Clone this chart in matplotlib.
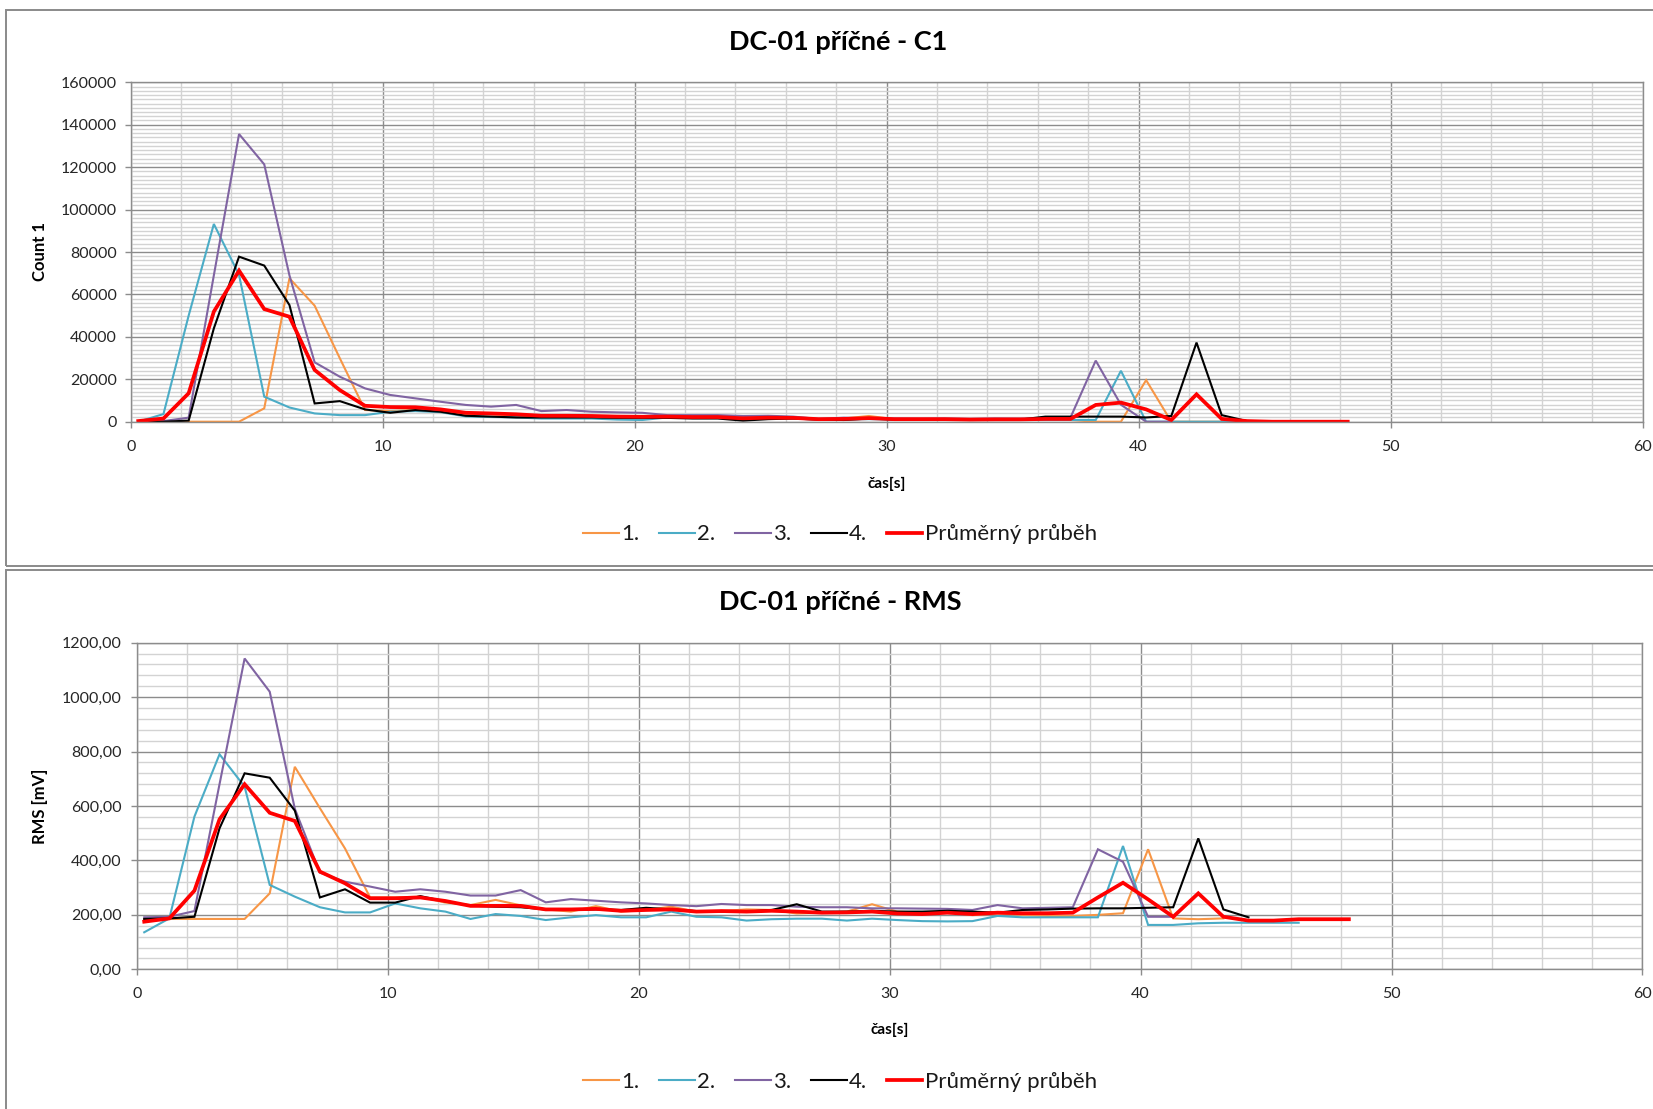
import matplotlib
matplotlib.use("Agg")
import matplotlib.pyplot as plt
from matplotlib.lines import Line2D
from matplotlib.patches import Rectangle
from matplotlib.ticker import FuncFormatter, MultipleLocator

plt.rcParams['font.family'] = ['Lato', 'DejaVu Sans']

# time axis [s]
TIME = [0.3, 1.3, 2.3, 3.3, 4.3, 5.3, 6.3, 7.3, 8.3, 9.3,
        10.3, 11.3, 12.3, 13.3, 14.3, 15.3, 16.3, 17.3, 18.3, 19.3,
        20.3, 21.3, 22.3, 23.3, 24.3, 25.3, 26.3, 27.3, 28.3, 29.3,
        30.3, 31.3, 32.3, 33.3, 34.3, 35.3, 36.3, 37.3, 38.3, 39.3,
        40.3, 41.3, 42.3, 43.3, 44.3, 45.3, 46.3, 47.3, 48.3]

SERIES_NAMES = ["1.", "2.", "3.", "4.", "Průměrný průběh"]

# ---- Count 1 ----
C1_RUN1 = [0, 0, 0, 0, 0, 6300, 67600, 54700, 29900, 5500,
           5000, 5500, 4500, 3500, 3500, 3000, 2500, 2500, 2500, 2000,
           2000, 2000, 2000, 2000, 1500, 1500, 1500, 1200, 1500, 2700,
           1200, 1200, 1000, 1000, 1000, 1000, 1000, 800, 0, 0,
           19600, 0, 0, 0]
C1_RUN2 = [0, 3600, 50000, 93200, 69200, 11800, 6700, 3900, 3100, 3100,
           4700, 5000, 4500, 2500, 2200, 2000, 1500, 1500, 1500, 1000,
           800, 2000, 2000, 2000, 1500, 2000, 1500, 1000, 1000, 1200,
           1000, 1000, 1000, 800, 800, 800, 800, 800, 800, 24000,
           0, 0, 0, 0, 0, 0, 0]
C1_RUN3 = [0, 300, 1900, 69000, 135600, 121300, 69000, 28000, 21200, 15700,
           12600, 11000, 9400, 7900, 7100, 7900, 5000, 5500, 4700, 4400,
           4200, 3100, 3100, 3100, 2700, 2800, 2400, 1300, 1900, 1600,
           1500, 1400, 1500, 1300, 1500, 1400, 1600, 2000, 28800, 8000,
           0, 0]
C1_RUN4 = [0, 0, 500, 44000, 77800, 73600, 55000, 8600, 9700, 5800,
           4200, 5500, 4700, 2800, 2400, 2000, 2000, 2000, 2000, 1800,
           1800, 1800, 1500, 1500, 500, 1200, 1500, 1000, 800, 1500,
           1000, 1000, 1200, 1000, 1000, 1000, 2400, 2400, 2400, 2400,
           2000, 2700, 37300, 3100, 300]
C1_MEAN = [300, 1500, 13400, 51900, 71200, 53100, 49500, 24400, 14900, 7500,
           6900, 6800, 5800, 4200, 3900, 3500, 2800, 2800, 2700, 2400,
           2300, 2400, 2200, 2200, 1600, 1900, 1800, 1200, 1300, 1700,
           1200, 1200, 1200, 1000, 1100, 1100, 1300, 1300, 7900, 9000,
           5800, 800, 12900, 1300, 300, 0, 0, 0, 0]

# ---- RMS [mV] ----
RMS_RUN1 = [185, 185, 185, 185, 185, 279, 744, 592, 444, 264,
            264, 267, 245, 236, 255, 235, 220, 212, 232, 212,
            218, 230, 212, 214, 220, 218, 205, 208, 212, 239,
            212, 208, 212, 199, 205, 200, 196, 196, 200, 206,
            441, 187, 184, 187]
RMS_RUN2 = [136, 187, 561, 790, 671, 310, 267, 228, 209, 209,
            242, 224, 212, 185, 203, 196, 181, 191, 199, 191,
            191, 212, 193, 191, 179, 184, 186, 186, 179, 186,
            181, 177, 176, 177, 196, 191, 191, 191, 191, 453,
            163, 163, 169, 171, 171, 171, 171]
RMS_RUN3 = [191, 193, 214, 680, 1142, 1020, 590, 355, 322, 304,
            285, 294, 285, 271, 271, 291, 246, 258, 252, 246,
            242, 236, 232, 240, 236, 236, 230, 228, 228, 224,
            224, 223, 222, 218, 236, 224, 226, 228, 441, 395,
            193, 193]
RMS_RUN4 = [185, 187, 193, 518, 720, 704, 583, 264, 294, 245,
            245, 269, 249, 234, 230, 228, 220, 218, 220, 218,
            226, 220, 214, 212, 212, 218, 239, 212, 212, 215,
            212, 212, 215, 212, 208, 218, 220, 223, 224, 224,
            226, 228, 481, 220, 191]
RMS_MEAN = [175, 187, 289, 551, 680, 575, 545, 359, 316, 261,
            261, 264, 251, 233, 233, 233, 220, 220, 222, 215,
            218, 220, 212, 214, 212, 215, 212, 208, 209, 212,
            205, 203, 208, 203, 208, 206, 206, 208, 264, 318,
            257, 193, 279, 193, 179, 179, 184, 184, 184]

COLORS = ["#F79646", "#4BACC6", "#8064A2", "#000000", "#FF0000"]
WIDTHS = [1.5, 1.5, 1.5, 1.5, 2.7]

W, H = 1653, 1109
fig = plt.figure(figsize=(W / 100, H / 100), dpi=100)
fig.patch.set_facecolor("white")

GRID_MAJOR = "#8C8C8C"
GRID_MINOR = "#D3D3D3"


def axes_px(left, top, right, bottom):
    return fig.add_axes([left / W, 1 - bottom / H, (right - left) / W, (bottom - top) / H])


def frame_px(left, top, right, bottom):
    fig.patches.append(Rectangle((left / W, 1 - bottom / H), (right - left) / W,
                                 (bottom - top) / H, transform=fig.transFigure,
                                 fill=False, edgecolor="#8A8A8A", linewidth=1.4))


def style_axes(ax, ymax, ymajor, yminor, yfmt, ypad):
    ax.set_xlim(0, 60)
    ax.set_ylim(0, ymax)
    ax.xaxis.set_major_locator(MultipleLocator(10))
    ax.xaxis.set_minor_locator(MultipleLocator(2))
    ax.yaxis.set_major_locator(MultipleLocator(ymajor))
    ax.yaxis.set_minor_locator(MultipleLocator(yminor))
    ax.yaxis.set_major_formatter(FuncFormatter(yfmt))
    ax.grid(which="minor", color=GRID_MINOR, linewidth=1.0)
    ax.grid(which="major", color=GRID_MAJOR, linewidth=1.0)
    ax.set_axisbelow(True)
    for s in ax.spines.values():
        s.set_color(GRID_MAJOR)
        s.set_linewidth(1.0)
    ax.tick_params(which="major", direction="out", length=4, width=1.0,
                   color=GRID_MAJOR, labelsize=11.5, labelcolor="#262626")
    ax.tick_params(axis="x", which="major", pad=9)
    ax.tick_params(axis="y", which="major", pad=ypad)
    ax.tick_params(which="minor", length=0)


def draw_panel(ax, series):
    for vals, c, lw in zip(series, COLORS, WIDTHS):
        ax.plot(TIME[:len(vals)], vals, color=c, linewidth=lw,
                solid_joinstyle="miter")


# outer chart frames
frame_px(6, 9.5, 1680, 566)
frame_px(6, 569.5, 1680, 1130)

# ---- top chart ----
ax1 = axes_px(130.7, 82.3, 1642.5, 421.7)
style_axes(ax1, 160000, 20000, 2000, lambda v, p: f"{int(v)}", 6)
draw_panel(ax1, [C1_RUN1, C1_RUN2, C1_RUN3, C1_RUN4, C1_MEAN])
fig.text(838 / W, 1 - 42 / H, "DC-01 příčné - C1", ha="center", va="center",
         fontsize=19.5, fontweight="bold")
fig.text(40 / W, 1 - 252 / H, "Count 1", ha="center", va="center",
         rotation=90, fontsize=12, fontweight="bold")
fig.text(886.6 / W, 1 - 484 / H, "čas[s]", ha="center", va="center",
         fontsize=11, fontweight="bold")

# ---- bottom chart ----
ax2 = axes_px(136.7, 642.7, 1642.5, 969.3)
style_axes(ax2, 1200, 200, 40, lambda v, p: f"{v:.2f}".replace(".", ","), 7)
draw_panel(ax2, [RMS_RUN1, RMS_RUN2, RMS_RUN3, RMS_RUN4, RMS_MEAN])
fig.text(840 / W, 1 - 602 / H, "DC-01 příčné - RMS", ha="center", va="center",
         fontsize=19.5, fontweight="bold")
fig.text(40 / W, 1 - 806 / H, "RMS [mV]", ha="center", va="center",
         rotation=90, fontsize=12, fontweight="bold")
fig.text(889.6 / W, 1 - 1030 / H, "čas[s]", ha="center", va="center",
         fontsize=11, fontweight="bold")

# legends below each chart
handles = [Line2D([], [], color=c, linewidth=lw) for c, lw in zip(COLORS, WIDTHS)]
for ycen in (534.5, 1081.5):
    fig.legend(handles, SERIES_NAMES, loc="center", ncol=5,
               bbox_to_anchor=(840 / W, 1 - ycen / H), frameon=False,
               fontsize=16, handlelength=1.6, handletextpad=0.1,
               columnspacing=0.9, borderpad=0, labelcolor="#1a1a1a")

fig.savefig("out.png", dpi=100, facecolor="white")
